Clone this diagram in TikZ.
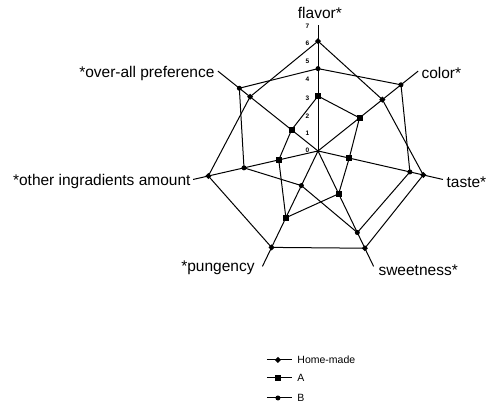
\documentclass[tikz,border=0pt]{standalone}
\usepackage{fontspec}
\setmainfont{Liberation Sans}
\usepackage{tikz}
\usetikzlibrary{shapes.geometric}
\tikzset{
  font={\fontsize{15.5pt}{18}\selectfont},
  homemark/.style={diamond,fill=black,inner sep=0pt,minimum size=6.5pt},
  amark/.style={rectangle,fill=black,inner sep=0pt,minimum size=6pt},
  bmark/.style={circle,fill=black,inner sep=0pt,minimum size=5pt},
  ticklab/.style={font={\fontsize{6.5pt}{7}\selectfont\bfseries},anchor=east},
  legtext/.style={font={\fontsize{10.5pt}{12}\selectfont},anchor=west}}

\begin{document}
\begin{tikzpicture}[x=18.3pt,y=18.3pt,line width=1pt]
\tikzstyle{every node}+=[inner sep=0pt]
\useasboundingbox (-17.38,-14.04) rectangle (9.18,8.25);
\coordinate (o) at (0,0);
% axes
\coordinate (flavorend) at (90:6.9);
\coordinate (colorend) at (38.571:7);
\coordinate (tasteend) at (-12.857:7);
\coordinate (sweetend) at (-64.286:7);
\coordinate (pungend) at (-115.714:7);
\coordinate (otherend) at (-167.143:7);
\coordinate (overend) at (141.429:7);
\draw [black] (o) -- (flavorend);
\draw [black] (o) -- (colorend);
\draw [black] (o) -- (tasteend);
\draw [black] (o) -- (sweetend);
\draw [black] (o) -- (pungend);
\draw [black] (o) -- (otherend);
\draw [black] (o) -- (overend);
% scale on the flavor axis
\node [ticklab] (t0) at (-0.45,0.05) {0};
\node [ticklab] (t1) at (-0.45,0.95) {1};
\node [ticklab] (t2) at (-0.45,1.9) {2};
\node [ticklab] (t3) at (-0.45,2.9) {3};
\node [ticklab] (t4) at (-0.45,3.9) {4};
\node [ticklab] (t5) at (-0.45,4.9) {5};
\node [ticklab] (t6) at (-0.45,5.9) {6};
\node [ticklab] (t7) at (-0.45,6.8) {7};
% axis names
\node (flavor) at (0.1,7.55) {flavor*};
\node [anchor=west] (color) at (5.63,4.26) {color*};
\node [anchor=west] (taste) at (7.0,-1.69) {taste*};
\node [anchor=west] (sweet) at (3.28,-6.5) {sweetness*};
\node [anchor=east] (pung) at (-3.44,-6.39) {*pungency};
\node [anchor=east] (other) at (-6.94,-1.69) {*other ingradients amount};
\node [anchor=east] (over) at (-5.63,4.26) {*over-all preference};
% Home-made
\coordinate (h1) at (90:6);
\coordinate (h2) at (38.571:4.5);
\coordinate (h3) at (-12.857:5.9);
\coordinate (h4) at (-64.286:5.9);
\coordinate (h5) at (-115.714:5.85);
\coordinate (h6) at (-167.143:6.15);
\coordinate (h7) at (141.429:4.75);
\draw [black] (h1) -- (h2) -- (h3) -- (h4) -- (h5) -- (h6) -- (h7) -- cycle;
% A
\coordinate (a1) at (90:3);
\coordinate (a2) at (38.571:2.9);
\coordinate (a3) at (-12.857:1.75);
\coordinate (a4) at (-64.286:2.6);
\coordinate (a5) at (-115.714:4.05);
\coordinate (a6) at (-167.143:2.2);
\coordinate (a7) at (141.429:1.85);
\draw [black] (a1) -- (a2) -- (a3) -- (a4) -- (a5) -- (a6) -- (a7) -- cycle;
% B
\coordinate (b1) at (90:4.5);
\coordinate (b2) at (38.571:5.8);
\coordinate (b3) at (-12.857:5.15);
\coordinate (b4) at (-64.286:4.95);
\coordinate (b5) at (-115.714:2.1);
\coordinate (b6) at (-167.143:4.15);
\coordinate (b7) at (141.429:5.5);
\draw [black] (b1) -- (b2) -- (b3) -- (b4) -- (b5) -- (b6) -- (b7) -- cycle;
% marks
\node [homemark] (hm1) at (h1) {};
\node [homemark] (hm2) at (h2) {};
\node [homemark] (hm3) at (h3) {};
\node [homemark] (hm4) at (h4) {};
\node [homemark] (hm5) at (h5) {};
\node [homemark] (hm6) at (h6) {};
\node [homemark] (hm7) at (h7) {};
\node [amark] (am1) at (a1) {};
\node [amark] (am2) at (a2) {};
\node [amark] (am3) at (a3) {};
\node [amark] (am4) at (a4) {};
\node [amark] (am5) at (a5) {};
\node [amark] (am6) at (a6) {};
\node [amark] (am7) at (a7) {};
\node [bmark] (bm1) at (b1) {};
\node [bmark] (bm2) at (b2) {};
\node [bmark] (bm3) at (b3) {};
\node [bmark] (bm4) at (b4) {};
\node [bmark] (bm5) at (b5) {};
\node [bmark] (bm6) at (b6) {};
\node [bmark] (bm7) at (b7) {};
% legend
\coordinate (lh1) at (-2.79,-11.42);
\coordinate (lh2) at (-1.42,-11.42);
\draw [black] (lh1) -- (lh2);
\node [homemark] (lhm) at (-2.19,-11.42) {};
\node [legtext] (lht) at (-1.15,-11.42) {Home-made};
\coordinate (la1) at (-2.79,-12.40);
\coordinate (la2) at (-1.42,-12.40);
\draw [black] (la1) -- (la2);
\node [amark] (lam) at (-2.19,-12.40) {};
\node [legtext] (lat) at (-1.15,-12.40) {A};
\coordinate (lb1) at (-2.79,-13.50);
\coordinate (lb2) at (-1.42,-13.50);
\draw [black] (lb1) -- (lb2);
\node [bmark] (lbm) at (-2.19,-13.50) {};
\node [legtext] (lbt) at (-1.15,-13.50) {B};
\end{tikzpicture}
\end{document}
